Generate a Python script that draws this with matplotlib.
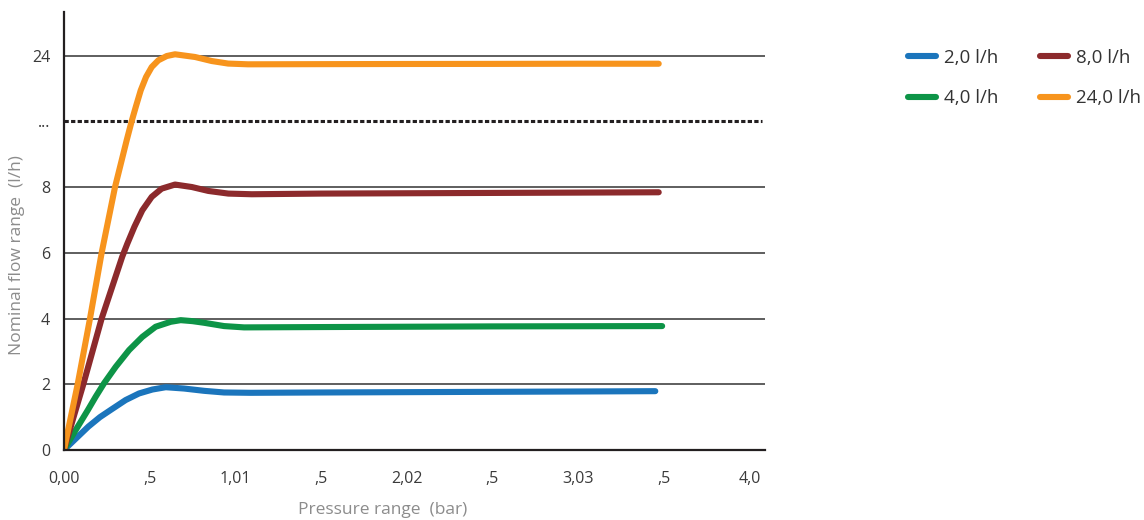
import numpy as np
import matplotlib
matplotlib.use("Agg")
import matplotlib.pyplot as plt

plt.rcParams["font.family"] = ["Open Sans", "DejaVu Sans"]

# values (pressure in bar, flow in l/h)
p_2 = [0.0, 0.07, 0.142, 0.21, 0.273, 0.36, 0.438, 0.516, 0.594, 0.701, 0.818, 0.934, 1.09, 1.5, 2.0, 2.5, 3.0, 3.45]
q_2 = [0.0, 0.35, 0.71, 1.0, 1.22, 1.52, 1.72, 1.84, 1.91, 1.87, 1.80, 1.75, 1.74, 1.75, 1.76, 1.77, 1.78, 1.79]

p_4 = [0.0, 0.07, 0.14, 0.185, 0.234, 0.302, 0.38, 0.457, 0.535, 0.623, 0.681, 0.75, 0.818, 0.934, 1.051, 1.5, 2.0, 2.5, 3.0, 3.49]
q_4 = [0.0, 0.62, 1.22, 1.62, 2.03, 2.53, 3.04, 3.44, 3.75, 3.90, 3.95, 3.92, 3.87, 3.77, 3.73, 3.74, 3.75, 3.76, 3.765, 3.77]

p_8 = [0.0, 0.056, 0.113, 0.22, 0.34, 0.37, 0.411, 0.457, 0.512, 0.57, 0.648, 0.746, 0.843, 0.959, 1.096, 1.5, 2.0, 2.5, 3.0, 3.47]
q_8 = [0.0, 1.0, 2.0, 4.0, 5.88, 6.28, 6.79, 7.29, 7.70, 7.95, 8.30, 8.0, 7.88, 7.80, 7.78, 7.80, 7.81, 7.82, 7.83, 7.84]

p_24 = [0.0, 0.08, 0.152, 0.22, 0.298, 0.366, 0.395, 0.419, 0.448, 0.479, 0.512, 0.551, 0.60, 0.648, 0.765, 0.862, 0.958, 1.074, 1.5, 2.0, 2.5, 3.0, 3.47]
q_24 = [0.0, 2.0, 4.0, 6.0, 8.0, 13.69, 16.0, 17.74, 19.77, 21.39, 22.6, 23.42, 23.94, 24.15, 23.82, 23.33, 23.02, 22.93, 22.95, 22.97, 22.98, 23.0, 23.0]

series_labels = ["2,0 l/h", "4,0 l/h", "8,0 l/h", "24,0 l/h"]
series_colors = ["#1b75bc", "#0d9447", "#8c2a2c", "#f7941d"]

x_ticks = [0.0, 0.5, 1.0, 1.5, 2.0, 2.5, 3.0, 3.5, 4.0]
x_tick_labels = ["0,00", ",5", "1,01", ",5", "2,02", ",5", "3,03", ",5", "4,0"]
y_ticks = [0, 2, 4, 6, 8, 16, 24]
y_tick_labels = ["0", "2", "4", "6", "8", "...", "24"]
grid_solid = [2, 4, 6, 8, 24]
grid_dotted = [16]


# broken flow axis: 2 l/h per step up to 8, then 8 l/h per step
def fwd(v):
    v = np.asarray(v, dtype=float)
    return np.where(v <= 8, v / 2.0, 4 + (v - 8) / 8.0)


def inv(s):
    s = np.asarray(s, dtype=float)
    return np.where(s <= 4, s * 2.0, 8 + (s - 4) * 8.0)


fig = plt.figure(figsize=(11.44, 5.2), dpi=100)
ax = fig.add_axes([0.0559, 0.1346, 0.6128, 0.8424])
ax.set_yscale("function", functions=(fwd, inv))
ax.set_xlim(0, 4.09)
ax.set_ylim(0, 29.3)

for y in grid_solid:
    ax.axhline(y, color="#333333", lw=1.1, zorder=1)
for y in grid_dotted:
    ax.axhline(y, xmax=0.996, color="#231f20", lw=2.2, linestyle=(0, (1.4, 0.75)), zorder=1)

data = [(p_2, q_2), (p_4, q_4), (p_8, q_8), (p_24, q_24)]
for (px, qy), lab, col in zip(data, series_labels, series_colors):
    ax.plot(px, qy, color=col, lw=4.4, label=lab, solid_capstyle="round",
            solid_joinstyle="round", zorder=3)

for side in ["top", "right"]:
    ax.spines[side].set_visible(False)
for side in ["left", "bottom"]:
    ax.spines[side].set_color("#231f20")
    ax.spines[side].set_linewidth(1.6)
    ax.spines[side].set_zorder(4)

ax.set_xticks(x_ticks)
ax.set_xticklabels(x_tick_labels)
ax.set_yticks(y_ticks)
ax.set_yticklabels(y_tick_labels)
ax.yaxis.set_minor_locator(matplotlib.ticker.NullLocator())
ax.tick_params(axis="x", length=0, pad=15, labelsize=11.5, labelcolor="#3a3a3a")
ax.tick_params(axis="y", length=0, pad=10, labelsize=11.5, labelcolor="#3a3a3a")

ax.set_xlabel("Pressure range  (bar)", fontsize=12.5, color="#8c8c8c")
ax.set_ylabel("Nominal flow range  (l/h)", fontsize=12.5, color="#8c8c8c")
ax.xaxis.set_label_coords(0.455, -0.119)
ax.yaxis.set_label_coords(-0.055, 0.445)

handles, labels = ax.get_legend_handles_labels()
leg = fig.legend(handles, labels, ncol=2, loc="upper left", bbox_to_anchor=(0.779, 0.939),
                 frameon=False, fontsize=13.5, handlelength=1.5, handletextpad=0.43,
                 columnspacing=2.2, labelspacing=1.2, labelcolor="#333333")

fig.savefig("out.png", dpi=100)
